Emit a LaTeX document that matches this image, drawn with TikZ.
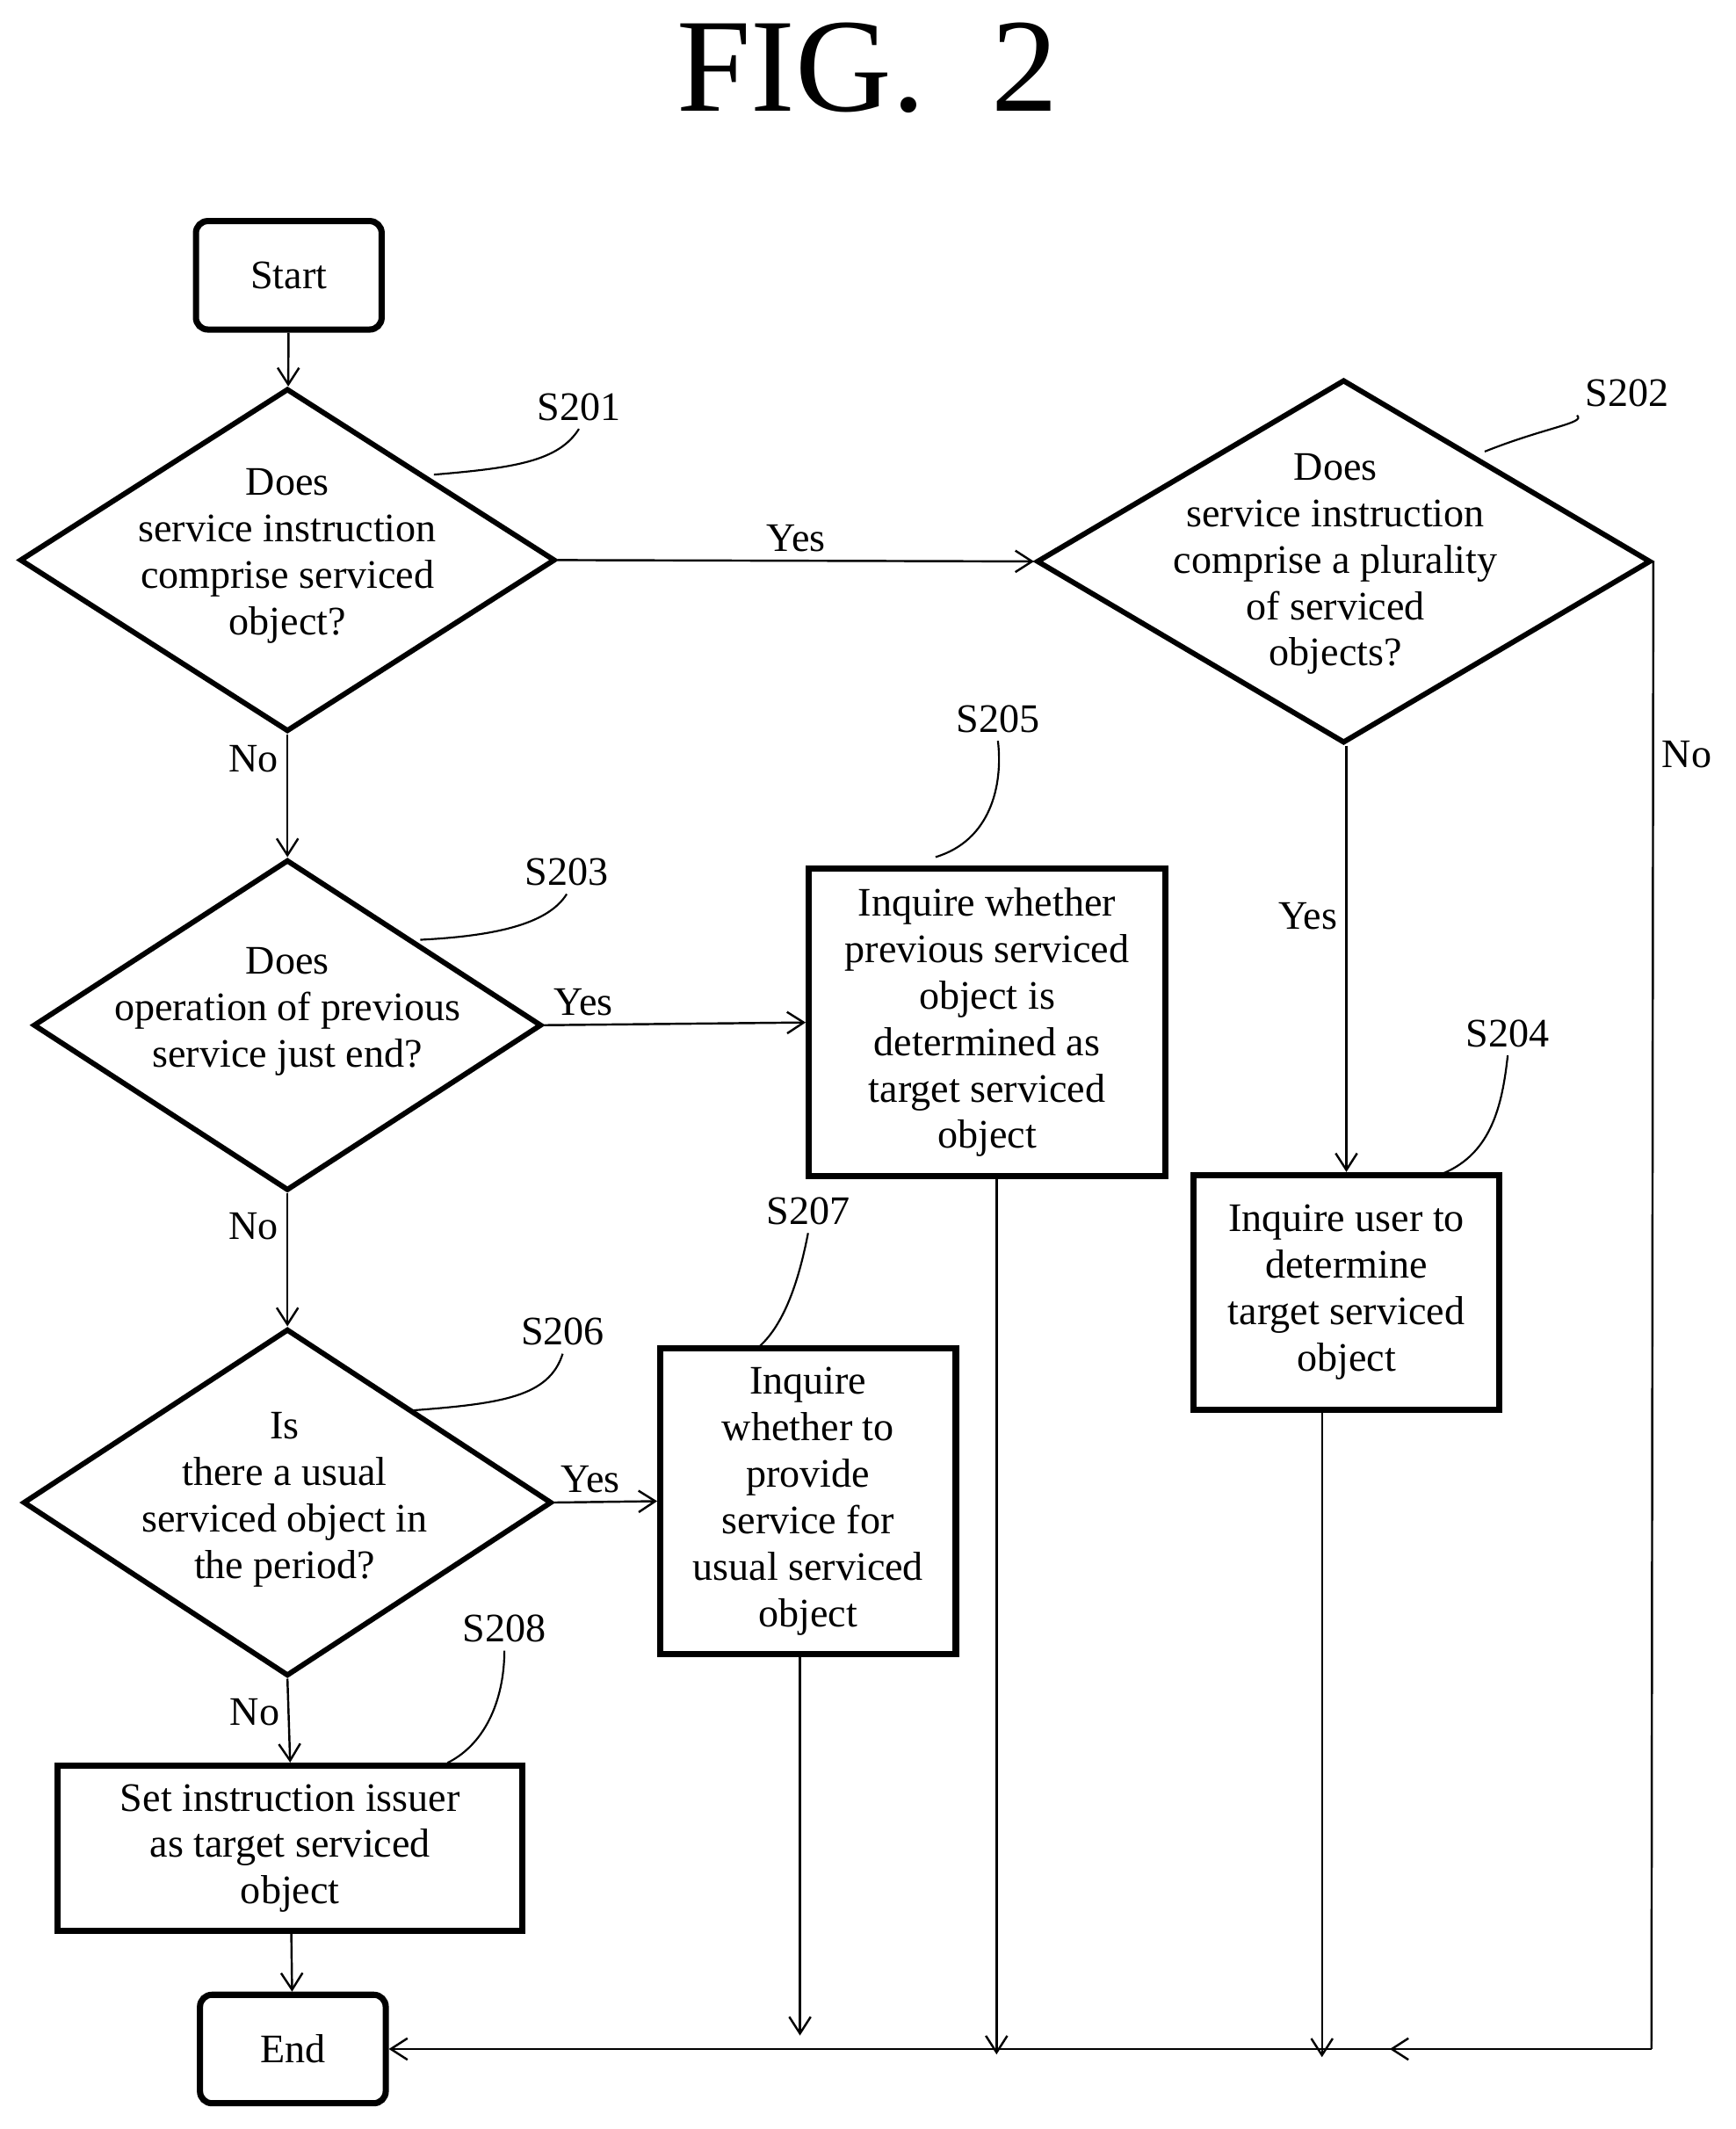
\documentclass[tikz,border=0pt]{standalone}
\usepackage{fontspec}
\setmainfont{Liberation Serif}
\usetikzlibrary{arrows.meta,positioning,shapes.geometric}
\tikzset{
  dec/.style={diamond, draw, line width=2.2pt, inner sep=0pt, aspect=1.5},
  proc/.style={draw, line width=2.6pt, inner sep=0pt},
  term/.style={draw, line width=2.6pt, rounded corners=5pt, minimum width=2.74cm, minimum height=1.6cm},
  txt/.style={align=center, font=\fontsize{17}{19.5}\selectfont},
  flow/.style={line width=0.9pt, -{Straight Barb[length=7pt,width=9pt]}},
  lead/.style={line width=0.8pt},
  tag/.style={font=\fontsize{17}{19}\selectfont}
}
\begin{document}
\begin{tikzpicture}[x=0.02cm, y=-0.02cm]
  \useasboundingbox (0,0) rectangle (1280,1570);
  \node[font=\fontsize{56}{60}\selectfont] (title) at (640,50) {FIG.\ \ 2};

  % shapes
  \node[term, txt] (start) at (213,203) {Start};
  \node[dec, minimum width=7.9cm, minimum height=5.06cm] (d201) at (212,413) {};
  \node[txt] at (212,410) {Does\\service instruction\\comprise serviced\\object?};
  \node[dec, minimum width=9.06cm, minimum height=5.36cm] (d202) at (991,414) {};
  \node[txt] at (985,416) {Does\\service instruction\\comprise a plurality\\of serviced\\objects?};
  \node[dec, minimum width=7.5cm, minimum height=4.88cm] (d203) at (212,756) {};
  \node[txt] at (212,746) {Does\\operation of previous\\service just end?};
  \node[proc, txt, minimum width=5.26cm, minimum height=4.54cm] (b205) at (728,754) {Inquire whether\\previous serviced\\object is\\determined as\\target serviced\\object};
  \node[proc, txt, minimum width=4.52cm, minimum height=3.46cm] (b204) at (993,953) {Inquire user to\\determine\\target serviced\\object};
  \node[dec, minimum width=7.8cm, minimum height=5.12cm] (d206) at (212,1108) {};
  \node[txt] at (210,1106) {Is\\there a usual\\serviced object in\\the period?};
  \node[proc, txt, minimum width=4.36cm, minimum height=4.5cm] (b207) at (596,1107) {Inquire\\whether to\\provide\\service for\\usual serviced\\object};
  \node[proc, txt, minimum width=6.86cm, minimum height=2.44cm] (b208) at (214,1363) {Set instruction issuer\\as target serviced\\object};
  \node[term, txt] (end) at (216,1511) {End};

  % connectors
  \coordinate (c202) at (1218,1511);
  \coordinate (c204) at (975,1511);
  \coordinate (c205) at (735,1511);
  \coordinate (c207) at (590,1511);
  \draw[flow] (start) -- (d201);
  \draw[flow] (d201.east) -- node[above, tag] {Yes} (d202.west);
  \draw[flow] (d201.south) -- node[pos=0.2, left, tag] {No} (d203.north);
  \draw[flow] (d202.south -| b204.north) -- node[pos=0.4, left, tag] {Yes} (b204.north);
  \draw[flow] (d203.east) -- node[pos=0.15, above, tag] {Yes} (b205.west);
  \draw[flow] (d203.south) -- node[pos=0.25, left, tag] {No} (d206.north);
  \draw[flow] (d206.east) -- node[pos=0.35, above, tag] {Yes} (b207.west);
  \draw[flow] (d206.south) -- node[pos=0.4, left, tag] {No} (b208.north);
  \draw[flow] (b208) -- (end);
  \draw[line width=0.9pt] (d202.east) -- node[pos=0.13, right, tag] {No} (c202);
  \draw[flow] (c202) -- (1025,1511);
  \draw[flow] (c202) -- (end.east);
  \draw[flow] (b204.south -| c204) -- ([yshift=-0.12cm]c204);
  \draw[flow] (b205.south -| c205) -- ([yshift=-0.08cm]c205);
  \draw[flow] (b207.south -| c207) -- ([yshift=0.2cm]c207);

  % step tags
  \node[tag] (s201) at (427,300) {S201};
  \node[tag] (s202) at (1200,290) {S202};
  \node[tag] (s203) at (418,643) {S203};
  \node[tag] (s204) at (1112,762) {S204};
  \node[tag] (s205) at (736,530) {S205};
  \node[tag] (s206) at (415,982) {S206};
  \node[tag] (s207) at (596,893) {S207};
  \node[tag] (s208) at (372,1201) {S208};
  \draw[lead] (320,350) .. controls (380,345) and (412,340) .. (s201.south);
  \draw[lead] (1095,333) .. controls (1140,315) and (1170,312) .. (s202.south west);
  \draw[lead] (310,693) .. controls (370,690) and (405,680) .. (s203.south);
  \draw[lead] (1065,865) .. controls (1100,850) and (1108,815) .. (s204.south);
  \draw[lead] (690,632) .. controls (730,620) and (740,580) .. (s205.south);
  \draw[lead] (305,1040) .. controls (370,1035) and (405,1030) .. (s206.south);
  \draw[lead] (560,993) .. controls (580,975) and (590,940) .. (s207.south);
  \draw[lead] (330,1300) .. controls (360,1285) and (372,1250) .. (s208.south);
\end{tikzpicture}
\end{document}
